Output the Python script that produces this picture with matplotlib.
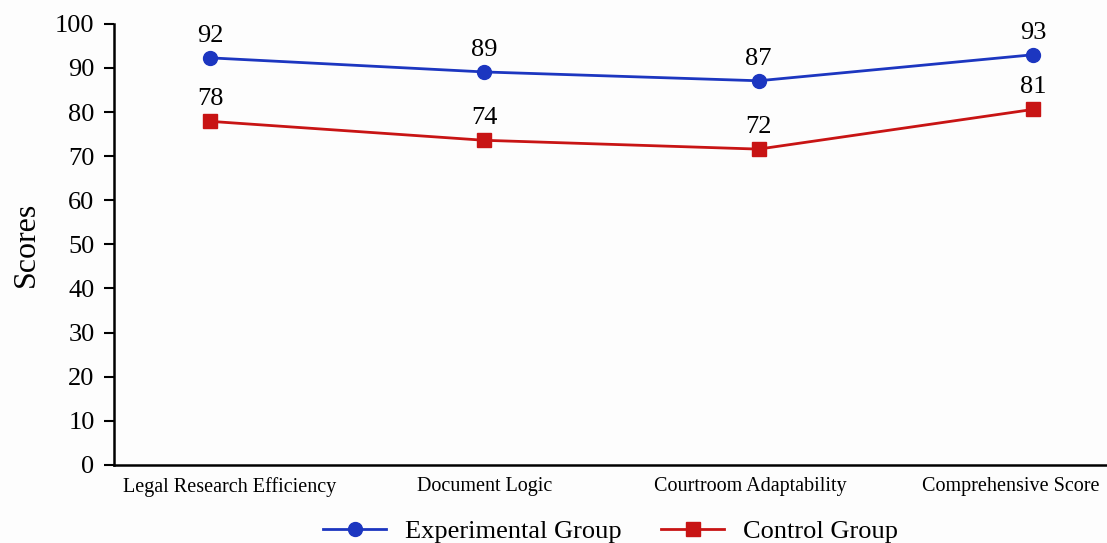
import matplotlib
matplotlib.use("Agg")
import matplotlib.pyplot as plt
import matplotlib.transforms as mtransforms

plt.rcParams['font.family'] = ['Liberation Serif', 'DejaVu Serif']

categories = ['Legal Research Efficiency', 'Document Logic',
              'Courtroom Adaptability', 'Comprehensive Score']
experimental = [92.3, 89.1, 87.1, 93.0]
control = [77.9, 73.6, 71.6, 80.6]

fig = plt.figure(figsize=(11.07, 5.43), dpi=100)
fig.patch.set_facecolor('#fdfdfd')
ax = fig.add_axes([0.103, 0.144, 0.897, 0.812])
ax.set_facecolor('#fdfdfd')

x = list(range(len(categories)))
ax.plot(x, experimental, color='#1c36c0', lw=2, marker='o', markersize=10,
        label='Experimental Group')
ax.plot(x, control, color='#c81414', lw=2, marker='s', markersize=10,
        label='Control Group')

for series in (experimental, control):
    for xi, v in zip(x, series):
        ax.annotate(f'{v:.0f}', (xi, v), xytext=(0, 8), textcoords='offset points',
                    ha='center', va='bottom', fontsize=19)

ax.set_xlim(-0.35, 3.27)
ax.set_ylim(0, 100)
ax.set_yticks(range(0, 101, 10))
ax.tick_params(axis='y', labelsize=19, length=7, width=1.5, direction='out', pad=7)
ax.set_xticks(x)
ax.set_xticklabels(categories, fontsize=14.5)
ax.tick_params(axis='x', length=0, pad=9)

# nudge the outer category labels inward so they stay on the canvas
shifts = [0.2, 0.0, -0.08, -0.22]
for lbl, dx in zip(ax.get_xticklabels(), shifts):
    lbl.set_transform(lbl.get_transform() +
                      mtransforms.ScaledTranslation(dx, 0, fig.dpi_scale_trans))

ax.set_ylabel('Scores', fontsize=23, labelpad=10)

for side in ('top', 'right'):
    ax.spines[side].set_visible(False)
for side in ('left', 'bottom'):
    ax.spines[side].set_linewidth(1.8)

ax.legend(loc='upper center', bbox_to_anchor=(0.5, -0.1), ncol=2,
          frameon=False, fontsize=19, handlelength=2.4, columnspacing=1.5,
          borderaxespad=0, handletextpad=0.7)

fig.savefig('out.png', dpi=100, facecolor=fig.get_facecolor())
